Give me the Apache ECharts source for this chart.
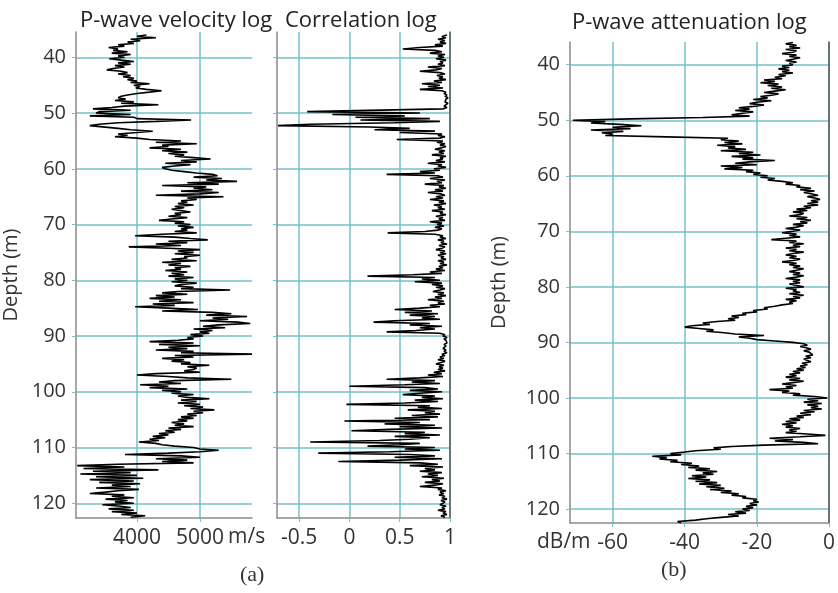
<!DOCTYPE html>
<html>
<head>
<meta charset="utf-8">
<script src="https://cdn.jsdelivr.net/npm/echarts@6/dist/echarts.min.js"></script>
<style>
  html, body { margin: 0; padding: 0; background: #fff; }
  #chart { width: 838px; height: 593px; }
</style>
</head>
<body>
<div id="chart"></div>
<script>
// depth samples: first depth and spacing (m), one value per sample below
const depthTop = 36
const depthStep = 0.25

// P-wave velocity (m/s), 5 m per row
const velocity = [
  4150, 4000, 4300, 3900, 4050, 3850, 3950, 3700, 3800, 3550, 3700, 3620, 3850, 3600, 3900, 3700, 3800, 3560, 3750, 3950,
  3700, 3900, 3650, 3800, 3620, 3520, 3750, 3850, 3700, 3900, 3780, 3950, 3850, 4000, 3900, 4200, 3950, 4050, 3980, 4150,
  4390, 4200, 4000, 3850, 3750, 3700, 3820, 3650, 3950, 3750, 4340, 3800, 3600, 3300, 3900, 3400, 3350, 3900, 3250, 3950,
  4000, 4860, 4300, 3700, 3400, 3250, 3220, 3700, 3900, 4250, 4000, 3700, 3850, 3650, 4000, 4200, 4700, 4300, 4950, 4400,
  4500, 4200, 4700, 4400, 4800, 4500, 4750, 4600, 4900, 5170, 4700, 4950, 4450, 4850, 4600, 4400, 4450, 4550, 4750, 4950,
  5200, 5280, 4900, 5350, 5100, 5590, 4800, 5300, 4400, 5100, 4900, 5200, 4700, 5300, 5000, 4300, 5375, 4800, 4950, 4700,
  4800, 4650, 4900, 4600, 4750, 4550, 4700, 4850, 4600, 4700, 4500, 4800, 4550, 4350, 4750, 4600, 4850, 4650, 4900, 4700,
  4800, 4600, 4950, 4400, 3970, 4600, 4850, 5125, 4500, 4800, 4300, 4700, 3870, 4500, 5000, 4650, 4900, 4600, 5000, 4750,
  4800, 4550, 4950, 4400, 4700, 4500, 4850, 4600, 4700, 4450, 4800, 4550, 4750, 4500, 4900, 4600, 4800, 4550, 4950, 4700,
  4600, 4900, 4700, 5480, 4650, 4400, 4800, 4300, 4600, 4200, 4700, 4350, 4900, 4250, 4600, 3970, 4500, 4970, 4400, 5200,
  5500, 5100, 5750, 5200, 5450, 5000, 5600, 5800, 5300, 5050, 5400, 4900, 5200, 5000, 5150, 4850, 5050, 4800, 4900, 4650,
  4200, 4900, 4350, 5000, 4500, 4800, 4300, 4900, 4700, 5830, 4600, 4900, 4400, 4750, 4550, 4850, 4700, 5150, 4800, 4950,
  4900, 4750, 5000, 4300, 4000, 4500, 4800, 5500, 4600, 4350, 4700, 4050, 4500, 4200, 4800, 4400, 4700, 4550, 4900, 4650,
  4800, 5150, 4700, 4950, 4650, 5000, 4750, 5050, 4850, 5230, 4900, 5050, 4800, 4950, 4700, 4900, 4650, 4800, 4550, 4750,
  4600, 4900, 4500, 4700, 4450, 4600, 4350, 4500, 4250, 4450, 4200, 4350, 4030, 4300, 4400, 4600, 4900, 5000, 5300, 5000,
  4500, 3810, 4700, 5000, 4300, 4800, 4400, 4900, 3700, 3050, 3800, 3150, 4340, 3300, 3900, 3100, 4000, 3350, 4100, 3250,
  3950, 3400, 4050, 3600, 3900, 3350, 4030, 3700, 3500, 3250, 3800, 3600, 3950, 3500, 3850, 3650, 3950, 3450, 3700, 3900,
  3550, 3950, 3600, 4000, 3750, 4130, 3900
]

// correlation coefficient
const correlation = [
  0.97, 0.92, 0.96, 0.88, 0.95, 0.90, 0.96, 0.85, 0.93, 0.70, 0.53, 0.85, 0.92, 0.80, 0.95, 0.88, 0.94, 0.86, 0.96, 0.90,
  0.93, 0.88, 0.95, 0.78, 0.92, 0.86, 0.70, 0.90, 0.95, 0.87, 0.93, 0.89, 0.96, 0.84, 0.92, 0.72, 0.90, 0.78, 0.93, 0.70,
  0.92, 0.96, 0.94, 0.97, 0.95, 0.98, 0.96, 0.97, 0.95, 0.98, 0.96, 0.94, 0.97, 0.93, 0.92, -0.42, 0.70, -0.17, 0.55, 0.06,
  0.80, 0.11, 0.90, 0.45, -0.39, -0.71, 0.20, 0.60, 0.25, 0.85, 0.50, 0.92, 0.88, 0.95, 0.90, 0.47, 0.93, 0.87, 0.95, 0.90,
  0.96, 0.91, 0.85, 0.95, 0.89, 0.94, 0.82, 0.96, 0.90, 0.93, 0.86, 0.95, 0.78, 0.92, 0.88, 0.96, 0.84, 0.90, 0.70, 0.85,
  0.37, 0.88, 0.93, 0.80, 0.95, 0.87, 0.92, 0.75, 0.94, 0.89, 0.96, 0.85, 0.93, 0.78, 0.91, 0.95, 0.86, 0.93, 0.80, 0.94,
  0.89, 0.96, 0.84, 0.92, 0.88, 0.95, 0.82, 0.93, 0.90, 0.96, 0.86, 0.93, 0.89, 0.95, 0.80, 0.92, 0.87, 0.94, 0.85, 0.92,
  0.88, 0.75, 0.38, 0.85, 0.93, 0.90, 0.96, 0.88, 0.94, 0.91, 0.97, 0.89, 0.95, 0.92, 0.86, 0.95, 0.90, 0.96, 0.88, 0.94,
  0.91, 0.96, 0.88, 0.94, 0.90, 0.97, 0.89, 0.93, 0.86, 0.95, 0.80, 0.92, 0.63, 0.18, 0.85, 0.72, 0.90, 0.65, 0.92, 0.82,
  0.93, 0.86, 0.95, 0.90, 0.83, 0.94, 0.88, 0.96, 0.85, 0.92, 0.78, 0.94, 0.88, 0.95, 0.80, 0.90, 0.70, 0.45, 0.82, 0.55,
  0.88, 0.60, 0.85, 0.72, 0.90, 0.45, 0.24, 0.80, 0.60, 0.92, 0.70, 0.85, 0.66, 0.37, 0.90, 0.95, 0.93, 0.97, 0.94, 0.96,
  0.95, 0.97, 0.94, 0.96, 0.95, 0.93, 0.96, 0.94, 0.97, 0.92, 0.95, 0.90, 0.94, 0.88, 0.95, 0.91, 0.86, 0.94, 0.89, 0.93,
  0.88, 0.95, 0.84, 0.92, 0.78, 0.93, 0.70, 0.37, 0.85, 0.62, 0.90, 0.55, 0.00, 0.75, 0.88, 0.60, 0.92, 0.70, 0.53, 0.85,
  0.72, 0.93, 0.65, 0.88, 0.55, -0.03, 0.80, 0.68, 0.92, 0.58, 0.85, 0.75, 0.90, 0.62, 0.88, 0.45, 0.80, -0.05, 0.70, 0.35,
  0.85, 0.50, 0.92, 0.40, 0.02, 0.75, 0.55, 0.90, 0.45, 0.80, 0.60, 0.30, -0.39, 0.70, 0.50, 0.18, 0.85, 0.55, 0.90, 0.40,
  -0.31, 0.60, 0.85, 0.45, 0.92, 0.50, -0.11, 0.70, 0.88, 0.60, 0.93, 0.75, 0.85, 0.70, 0.92, 0.78, 0.88, 0.72, 0.94, 0.82,
  0.90, 0.75, 0.93, 0.85, 0.70, 0.92, 0.88, 0.96, 0.90, 0.94, 0.89, 0.95, 0.92, 0.97, 0.91, 0.95, 0.93, 0.90, 0.96, 0.92,
  0.95, 0.88, 0.96, 0.93, 0.97, 0.91, 0.95
]

// P-wave attenuation (dB/m)
const attenuation = [
  -10, -12, -9, -11, -8, -12, -9, -10, -13, -9, -11, -8, -10, -12, -9, -11, -10, -13, -11, -14,
  -11, -13, -10, -14, -12, -15, -13, -18, -15, -19, -14, -17, -13, -16, -12, -15, -18, -14, -16, -19,
  -17, -21, -16, -20, -22, -18, -21, -25, -22, -26, -21, -24, -27, -22, -35, -55, -71, -62, -66, -58,
  -52, -60, -55, -66, -57, -63, -60, -62, -45, -28, -30, -25, -29, -24, -31, -26, -28, -23, -30, -21,
  -25, -19, -27, -21, -24, -15, -22, -26, -20, -30, -24, -29, -21, -23, -19, -21, -17, -19, -15, -17,
  -13, -10, -12, -8, -9, -5, -8, -4, -7, -5, -3, -6, -4, -2.5, -5, -3, -6, -3, -7, -5,
  -9, -6, -10, -7, -8, -11, -6, -9, -5, -8, -6, -10, -7, -9, -12, -8, -10, -13, -9, -11,
  -8, -12, -16, -9, -11, -7, -10, -8, -12, -9, -11, -7, -10, -12, -9, -11, -8, -10, -13, -9,
  -11, -8, -10, -7, -9, -11, -8, -10, -7, -9, -12, -8, -10, -8, -11, -9, -7, -12, -9, -10,
  -8, -11, -7, -10, -8, -12, -9, -11, -10, -13, -15, -18, -17, -21, -20, -24, -23, -27, -25, -28,
  -26, -31, -35, -33, -38, -40, -36, -32, -34, -29, -26, -18, -25, -22, -20, -15, -10, -7, -6, -8,
  -6, -5, -7, -5.5, -6, -4.5, -6.5, -5, -7, -6, -5, -7.5, -6, -8, -6.5, -9, -7, -10, -8, -11,
  -9, -12, -8, -11, -7, -10, -13, -9, -12, -10, -16.5, -11, -13, -8, -10, -4, -0.5, -6, -3, -7,
  -2, -6, -3, -5, -2, -7, -4, -8, -5, -9, -7, -11, -8, -12, -9, -13, -10, -12, -8, -11,
  -9, -12, -6, -1, -8, -16.5, -10, -15, -7, -3, -18, -27, -32, -30, -37, -40, -44, -41, -49, -45,
  -47, -42, -44, -38, -41, -36, -39, -33, -37, -31, -35, -32, -38, -34, -39, -33, -37, -31, -36, -30,
  -34, -29, -33, -27, -30, -25, -27, -23, -24, -20, -21, -19.5, -22, -20, -23, -21, -24, -22, -26, -23,
  -28, -25, -30, -34, -37, -42, -41
]

const depthTicks = [40, 50, 60, 70, 80, 90, 100, 110, 120]
const velocityTicks = [4000, 5000]
const correlationTicks = [-0.5, 0, 0.5, 1]
const attenuationTicks = [-60, -40, -20, 0]

const toPairs = (vals) => vals.map((v, i) => [v, depthTop + i * depthStep])

const gridColor = '#72c2ca'
const axisColor = '#8a8a8a'
const font = 'Open Sans'

function depthAxis(gridIndex, min, max, showLabels, name, nameGap) {
  return {
    gridIndex: gridIndex,
    type: 'value',
    inverse: true,
    min: min,
    max: max,
    name: name,
    nameLocation: 'middle',
    nameGap: nameGap,
    nameRotate: 90,
    nameTextStyle: { fontFamily: font, fontSize: 20, color: '#333' },
    axisLine: { show: true, onZero: false, lineStyle: { color: axisColor, width: 1.5 } },
    axisTick: { show: true, length: 4, customValues: depthTicks, lineStyle: { color: gridColor } },
    axisLabel: {
      show: showLabels,
      customValues: depthTicks,
      margin: 10,
      fontFamily: font,
      fontSize: 20,
      color: '#333'
    },
    splitLine: { show: true, lineStyle: { color: gridColor, width: 1.5 } }
  }
}

function borderAxis(gridIndex, min, max) {
  return {
    gridIndex: gridIndex,
    type: 'value',
    inverse: true,
    position: 'right',
    min: min,
    max: max,
    axisLine: { show: true, onZero: false, lineStyle: { color: '#555', width: 1.5 } },
    axisTick: { show: false },
    axisLabel: { show: false },
    splitLine: { show: false }
  }
}

function valueAxis(gridIndex, min, max, ticks) {
  return {
    gridIndex: gridIndex,
    type: 'value',
    position: 'bottom',
    min: min,
    max: max,
    axisLine: { show: true, onZero: false, lineStyle: { color: axisColor, width: 1.5 } },
    axisTick: { show: true, length: 4, customValues: ticks, lineStyle: { color: gridColor } },
    axisLabel: {
      customValues: ticks,
      formatter: (v) => String(v),
      margin: 10,
      fontFamily: font,
      fontSize: 21,
      color: '#333'
    },
    splitLine: { show: true, lineStyle: { color: gridColor, width: 1.5 } }
  }
}

function logSeries(axisIndex, vals) {
  return {
    type: 'line',
    xAxisIndex: axisIndex,
    yAxisIndex: axisIndex,
    data: toPairs(vals),
    showSymbol: false,
    lineStyle: { color: '#000', width: 1.6 },
    z: 5
  }
}

const titleStyle = { fontFamily: font, fontSize: 22, fontWeight: 'normal', color: '#222' }

const chart = echarts.init(document.getElementById('chart'))

chart.setOption({
  animation: false,
  textStyle: { fontFamily: font },
  title: [
    { text: 'P-wave velocity log', left: 75, top: 5, textStyle: titleStyle },
    { text: 'Correlation log', left: 280, top: 5, textStyle: titleStyle },
    { text: 'P-wave attenuation log', left: 567, top: 7, textStyle: titleStyle }
  ],
  grid: [
    { left: 73, top: 32, width: 179, height: 486 },
    { left: 277, top: 32, width: 173, height: 486 },
    { left: 570, top: 42, width: 260, height: 481 }
  ],
  xAxis: [
    valueAxis(0, 3031, 5828, velocityTicks),
    valueAxis(1, -0.72, 1, correlationTicks),
    valueAxis(2, -71.8, 0, attenuationTicks)
  ],
  yAxis: [
    depthAxis(0, 35.46, 122.64, true, 'Depth (m)', 55),
    depthAxis(1, 35.46, 122.64, false, '', 0),
    depthAxis(2, 35.91, 122.52, true, 'Depth (m)', 61),
    borderAxis(1, 35.46, 122.64),
    borderAxis(2, 35.91, 122.52)
  ],
  series: [
    logSeries(0, velocity),
    logSeries(1, correlation),
    logSeries(2, attenuation)
  ],
  graphic: [
    { type: 'text', left: 228, top: 527, style: { text: 'm/s', fontFamily: font, fontSize: 21, fill: '#333' } },
    { type: 'text', left: 537, top: 532, style: { text: 'dB/m', fontFamily: font, fontSize: 21, fill: '#333' } },
    { type: 'text', left: 240, top: 564, style: { text: '(a)', fontFamily: 'Liberation Serif', fontSize: 22, fill: '#333' } },
    { type: 'text', left: 661, top: 559, style: { text: '(b)', fontFamily: 'Liberation Serif', fontSize: 22, fill: '#333' } }
  ]
})
</script>
</body>
</html>
